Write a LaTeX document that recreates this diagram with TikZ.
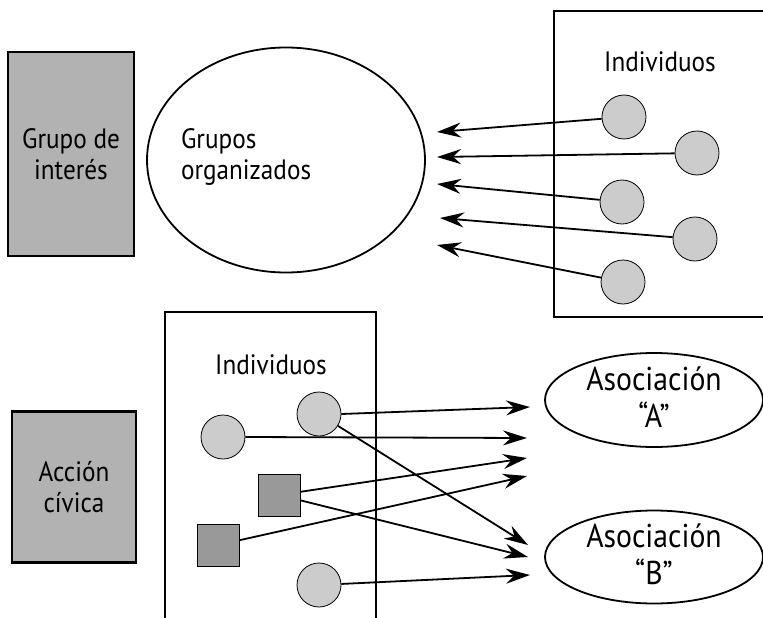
\documentclass[tikz,border=0pt]{standalone}
\usepackage{fontspec}
\setmainfont{PT Sans}[FakeStretch=0.9]
\usetikzlibrary{arrows.meta,shapes.geometric}

\begin{document}
\begin{tikzpicture}[x=1pt,y=-1pt, inner sep=1mm, >={Stealth[length=24pt,width=15pt,inset=8pt]},
  caja/.style={draw, line width=2.2pt},
  ind/.style={circle, draw, line width=0.8pt, fill=black!20, minimum size=44pt, inner sep=0pt},
  cuad/.style={draw, line width=0.8pt, fill=black!40, minimum size=42pt, inner sep=0pt},
  flecha/.style={->, line width=1.8pt},
  txt/.style={font=\fontsize{28}{31}\selectfont},
  txtg/.style={font=\fontsize{33}{37}\selectfont}]
\useasboundingbox (0,0) rectangle (763,618);

% grupo de interes
\node (gi) at (71,154) [caja, fill=black!30, minimum width=126pt, minimum height=204pt, align=center, txt] {Grupo de\\interés};
\node (go) at (286,160) [ellipse, draw, line width=1.8pt, minimum width=278pt, minimum height=225pt] {};
\node (got) at (178,157) [anchor=west, align=left, txt] {Grupos\\organizados};
\draw[caja] (554,11) rectangle (770,317);
\node (it) at (660,62) [txt] {Individuos};
\node (c1) at (624,117) [ind] {};
\node (c2) at (697,153) [ind] {};
\node (c3) at (622,202) [ind] {};
\node (c4) at (695,239) [ind] {};
\node (c5) at (623,282) [ind] {};
\coordinate (t1) at (437,132);
\coordinate (t2) at (437,157);
\coordinate (t3) at (437,184);
\coordinate (t4) at (440,218);
\coordinate (t5) at (437,245);
\draw[flecha] (c1) -- (t1);
\draw[flecha] (c2) -- (t2);
\draw[flecha] (c3) -- (t3);
\draw[flecha] (c4) -- (t4);
\draw[flecha] (c5) -- (t5);

% accion civica
\node (ac) at (74,487) [caja, fill=black!30, minimum width=124pt, minimum height=151pt, align=center, txt] {Acción\\cívica};
\draw[caja] (165,312) rectangle (376,625);
\node (ib) at (271,365) [txt] {Individuos};
\node (d1) at (319,414) [ind] {};
\node (d2) at (223,437) [ind] {};
\node (s1) at (279,495) [cuad] {};
\node (s2) at (218,545) [cuad] {};
\node (d3) at (319,585) [ind] {};
\node (aa) at (654,400) [ellipse, draw, line width=1.8pt, minimum width=218pt, minimum height=94pt] {};
\node (aat) at (654,397) [align=center, txtg] {Asociación\\“A”};
\node (ab) at (654,557) [ellipse, draw, line width=1.8pt, minimum width=218pt, minimum height=93pt] {};
\node (abt) at (654,554) [align=center, txtg] {Asociación\\“B”};
\coordinate (a1) at (530,407);
\coordinate (a2) at (527,438);
\coordinate (a3) at (527,458);
\coordinate (a4) at (527,476);
\coordinate (b1) at (528,545);
\coordinate (b2) at (528,557);
\coordinate (b3) at (530,575);
\draw[flecha] (d1.east) -- (a1);
\draw[flecha] (d2.east) -- (a2);
\draw[flecha] (s1) -- (a3);
\draw[flecha] (s2) -- (a4);
\draw[flecha] (d1) -- (b1);
\draw[flecha] (s1) -- (b2);
\draw[flecha] (d3) -- (b3);
\end{tikzpicture}
\end{document}
